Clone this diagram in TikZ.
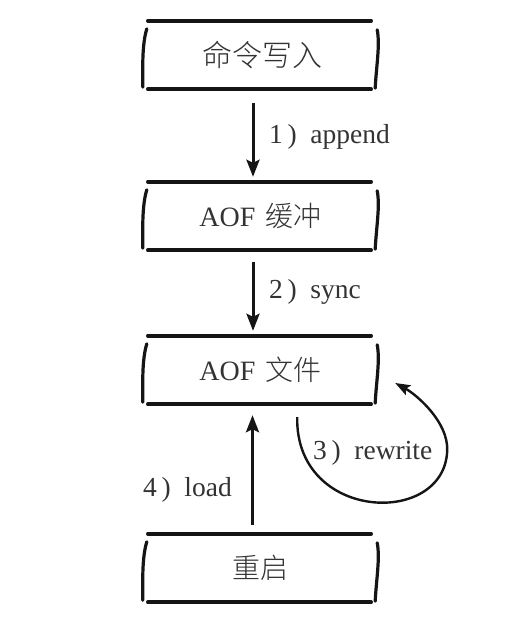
\documentclass[tikz,border=0pt]{standalone}
\usepackage{fontspec}
\setmainfont{Liberation Serif}
\newfontfamily\cjk{Noto Sans CJK SC}[UprightFont=* Light]
\usetikzlibrary{calc,arrows.meta}
\definecolor{ink}{HTML}{151515}
\definecolor{txt}{HTML}{333333}
\tikzset{
  boxnode/.style={minimum width=233pt, minimum height=68pt, inner sep=0pt, text=txt, font=\fontsize{28}{32}\selectfont},
  hline/.style={line width=3.6pt, draw=ink, line cap=round},
  vline/.style={line width=3.2pt, draw=ink, line cap=round},
  arr/.style={line width=3pt, draw=ink, -{Stealth[length=17pt,width=13pt,inset=3pt]}},
  curvearr/.style={line width=2.4pt, draw=ink, -{Stealth[length=15pt,width=11pt,inset=3pt]}},
  lbl/.style={text=txt, font=\fontsize{27.5}{30}\selectfont, inner sep=0pt}
}
\newcommand\sketchbox[1]{%
  \draw[hline] ($(#1.north west)+(4,0)$) -- ($(#1.north east)+(-6,0)$);
  \draw[hline] ($(#1.south west)+(4,0)$) -- ($(#1.south east)+(-6,0)$);
  \draw[vline] ($(#1.north west)+(3,8)$) .. controls ($(#1.west)+(-2,-10)$) and ($(#1.west)+(-1,14)$) .. ($(#1.south west)+(-1,-2)$);
  \draw[vline] ($(#1.north east)+(0,9)$) .. controls ($(#1.east)+(3,-10)$) and ($(#1.east)+(-1,12)$) .. ($(#1.south east)+(-2,-1)$);
}
\begin{document}
\begin{tikzpicture}[x=1pt,y=-1pt]
\useasboundingbox (0,0) rectangle (512,623);
\node[boxnode] (b1) at (260.5,55) {\hspace{3pt}{\cjk\fontsize{30}{32}\selectfont 命令写入}};
\node[boxnode] (b2) at (260.5,216) {AOF\hspace{10pt}{\cjk 缓冲}};
\node[boxnode] (b3) at (260.5,370) {AOF\hspace{10pt}{\cjk 文件}};
\node[boxnode] (b4) at (260.5,568) {\cjk 重启};
\sketchbox{b1}
\sketchbox{b2}
\sketchbox{b3}
\sketchbox{b4}
\draw[arr, shorten <=14pt, shorten >=5pt] ([xshift=-7.5pt]b1.south) -- ([xshift=-7.5pt]b2.north);
\draw[arr, shorten <=12pt, shorten >=5pt] ([xshift=-7.5pt]b2.south) -- ([xshift=-7.5pt]b3.north);
\draw[arr, shorten <=9pt, shorten >=11pt] ([xshift=-8pt]b4.north) -- ([xshift=-8pt]b3.south);
\coordinate (rs) at ($(b3.south east)+(-80,13)$);
\coordinate (re) at ($(b3.east)+(18,13)$);
\draw[curvearr] (rs) .. controls ($(rs)+(-2,105)$) and ($(rs)+(148,110)$) .. ($(rs)+(150,33)$) .. controls ($(rs)+(151,5)$) and ($(re)+(22,12)$) .. (re);
\node[lbl, anchor=west] (l1) at (269,137) {1\,)\enspace append};
\node[lbl, anchor=west] (l2) at (269,292) {2\,)\enspace sync};
\node[lbl, anchor=west] (l3) at (313,453) {3\,)\enspace rewrite};
\node[lbl, anchor=east] (l4) at (232,490) {4\,)\enspace load};
\end{tikzpicture}
\end{document}
